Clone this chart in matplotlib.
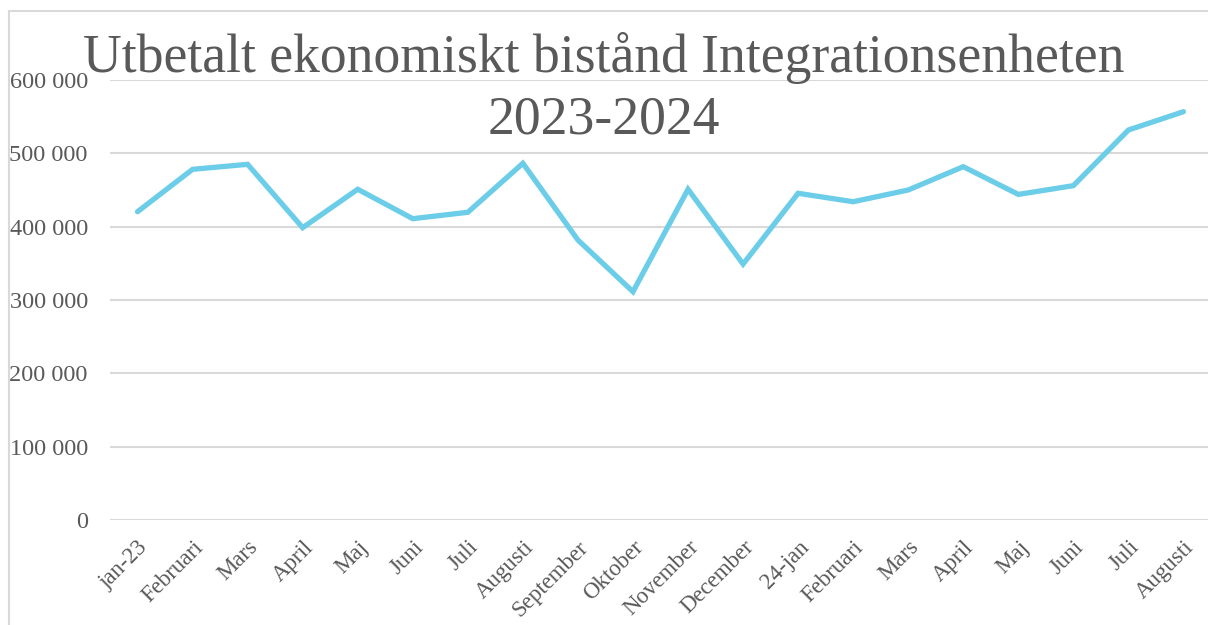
import matplotlib.pyplot as plt
from matplotlib.patches import Rectangle
from matplotlib.ticker import FuncFormatter

# Months (Swedish labels as in the source chart)
months = ['jan-23', 'Februari', 'Mars', 'April', 'Maj', 'Juni', 'Juli', 'Augusti',
          'September', 'Oktober', 'November', 'December', '24-jan', 'Februari',
          'Mars', 'April', 'Maj', 'Juni', 'Juli', 'Augusti']

# Paid out financial assistance (SEK)
paid = [420400, 478200, 485000, 398600, 451000, 410900, 419600, 486400,
        381800, 311300, 451000, 349000, 445500, 434000, 450000, 481800,
        444000, 455900, 531800, 556800]

yticks = [0, 100000, 200000, 300000, 400000, 500000, 600000]

title_lines = ['Utbetalt ekonomiskt bistånd Integrationsenheten', '2023-2024']

grey = '#595959'
plt.rcParams['font.family'] = ['Liberation Serif', 'DejaVu Serif']

fig = plt.figure(figsize=(12.08, 6.25), dpi=100)
ax = fig.add_axes([110 / 1208, 1 - 520 / 625, 1101 / 1208, 440 / 625])

x = list(range(len(months)))
ax.plot(x, paid, color='#6ccde9', linewidth=3.8, solid_capstyle='round', solid_joinstyle='miter')

ax.set_xlim(-0.5, len(months) - 0.5)
ax.set_ylim(0, 600000)
ax.set_yticks(yticks)
ax.yaxis.set_major_formatter(FuncFormatter(lambda v, p: f'{int(v):,}'.replace(',', ' ')))
ax.set_xticks(x)
ax.set_xticklabels(months, rotation=45, ha='right', va='top', rotation_mode='anchor')

ax.grid(axis='y', color='#d9d9d9', linewidth=1.5)
ax.set_axisbelow(True)
for s in ax.spines.values():
    s.set_visible(False)
ax.tick_params(axis='y', length=0, pad=16, labelsize=17.5, labelcolor=grey)
ax.tick_params(axis='x', length=0, pad=12, labelsize=16.5, labelcolor=grey)

# Two-line title, each line placed on its own baseline
fig.text(0.5, 1 - 72 / 625, title_lines[0], ha='center', va='baseline',
         fontsize=38.6, color=grey)
fig.text(0.5, 1 - 133 / 625, title_lines[1], ha='center', va='baseline',
         fontsize=38.6, color=grey)

# Light frame around the chart area (cut off at right and bottom)
fig.patches.append(Rectangle((9 / 1208, -0.1), 1.2, (625 - 11) / 625 + 0.1,
                             transform=fig.transFigure, fill=False,
                             edgecolor='#d9d9d9', linewidth=1.5))

fig.savefig('out.png', dpi=100)
